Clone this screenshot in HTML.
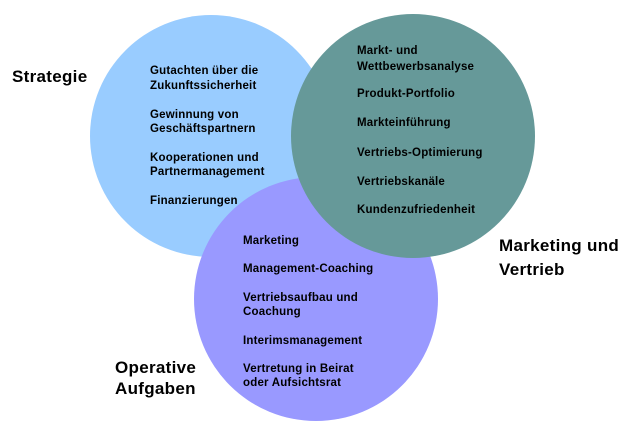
<!DOCTYPE html>
<html><head><style>html,body{margin:0;padding:0;background:#fff}</style></head><body>
<svg width="633" height="438" xmlns="http://www.w3.org/2000/svg" font-family="Liberation Sans, Arial, sans-serif" font-weight="bold">
<circle cx="211" cy="136" r="121" fill="#99ccff"/>
<circle cx="316" cy="299" r="122" fill="#9999ff"/>
<circle cx="413" cy="136" r="122" fill="#669999"/>
<g font-size="11.5" fill="#000" letter-spacing="0.2">
<text x="150" y="74">Gutachten über die</text>
<text x="150" y="89">Zukunftssicherheit</text>
<text x="150" y="118">Gewinnung von</text>
<text x="150" y="132">Geschäftspartnern</text>
<text x="150" y="161">Kooperationen und</text>
<text x="150" y="175">Partnermanagement</text>
<text x="150" y="204">Finanzierungen</text>
<text x="357" y="54">Markt- und</text>
<text x="357" y="70">Wettbewerbsanalyse</text>
<text x="357" y="97">Produkt-Portfolio</text>
<text x="357" y="126">Markteinführung</text>
<text x="357" y="156">Vertriebs-Optimierung</text>
<text x="357" y="185">Vertriebskanäle</text>
<text x="357" y="213">Kundenzufriedenheit</text>
<text x="243" y="244">Marketing</text>
<text x="243" y="272">Management-Coaching</text>
<text x="243" y="301">Vertriebsaufbau und</text>
<text x="243" y="315">Coachung</text>
<text x="243" y="344">Interimsmanagement</text>
<text x="243" y="372">Vertretung in Beirat</text>
<text x="243" y="386">oder Aufsichtsrat</text>
</g>
<g font-size="17" fill="#000" letter-spacing="0.3">
<text x="12" y="82">Strategie</text>
<text x="499" y="251">Marketing und</text>
<text x="499" y="275">Vertrieb</text>
<text x="115" y="373">Operative</text>
<text x="115" y="394">Aufgaben</text>
</g>
</svg>
</body></html>
